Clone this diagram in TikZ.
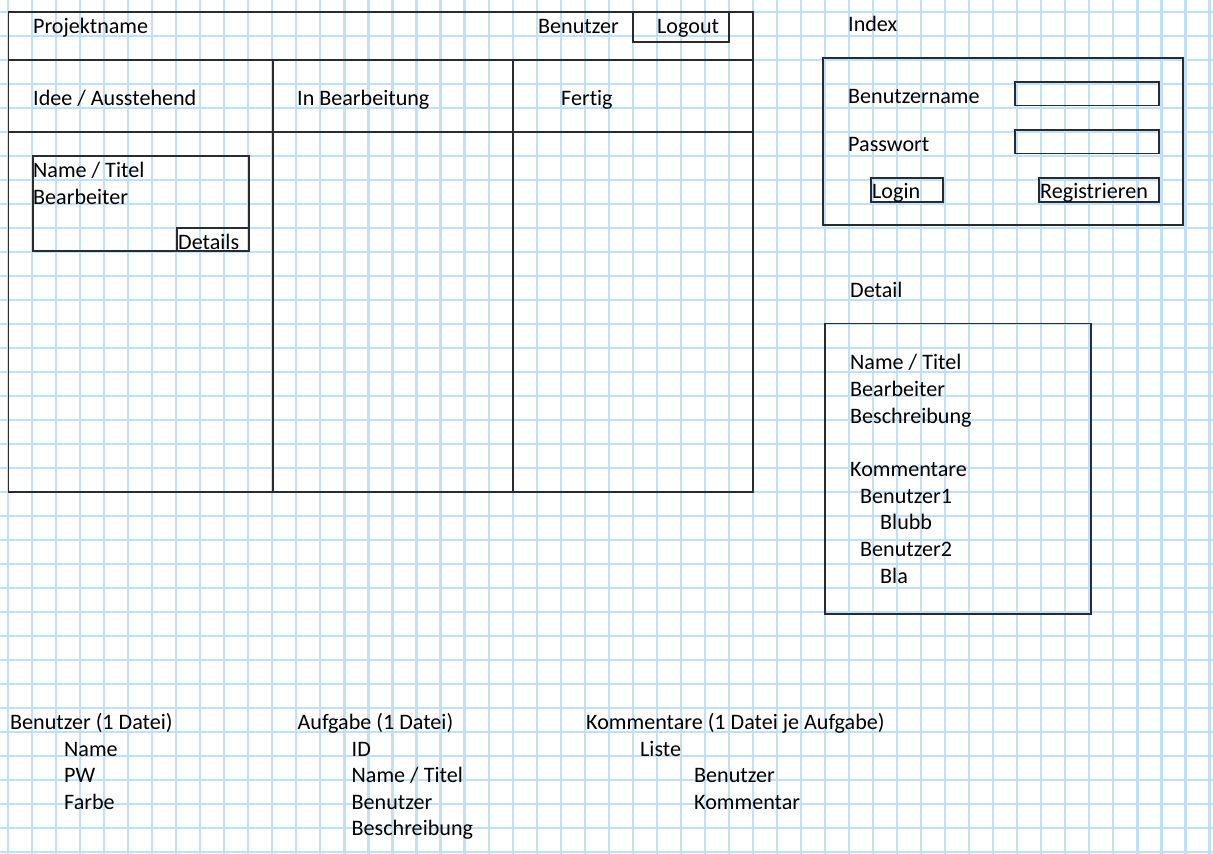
\documentclass[tikz,border=0pt]{standalone}
\usepackage{fontspec}
\setmainfont[Ligatures=NoCommon]{Carlito}
\usepackage{xcolor}
\usepackage{tikz}
\usetikzlibrary{positioning}
\definecolor{gridblue}{RGB}{192,224,249}
\definecolor{boxline}{RGB}{40,43,47}

\begin{document}
\begin{tikzpicture}[
				x=1pt, y=-1pt,
				gridline/.style={draw=gridblue, line width=2.2pt},
				frame/.style={draw=boxline, line width=1.8pt},
				lbl/.style={anchor=base west, inner sep=0pt, font=\fontsize{22.1}{26}\selectfont}
				]
				\useasboundingbox (0,0) rectangle (1213,854);
				\fill[white] (0,0) rectangle (1213,854);
				% sheet grid
				\foreach \i in {0,...,50}
				\draw[gridline] ({8+24.03*\i},0) -- ({8+24.03*\i},854);
				\foreach \j in {0,...,35}
				\draw[gridline] (0,{11.8+24*\j}) -- (1213,{11.8+24*\j});
				
				% board
				\draw[frame] (8.5,12) rectangle (753,492);
				\draw[frame] (8.5,60) -- (753,60);
				\draw[frame] (8.5,132) -- (753,132);
				\draw[frame] (273,60) -- (273,492);
				\draw[frame] (513,60) -- (513,492);
				\draw[frame] (633,12) rectangle (729,42);
				\node[lbl] (projekt) at (33,33.5) {Projektname};
				\node[lbl] (benutzer) at (538,33) {Benutzer};
				\node[lbl] (logout) at (657,33) {Logout};
				\node[lbl] (idee) at (33,105.5) {Idee / Ausstehend};
				\node[lbl] (inbearb) at (297,105.5) {In Bearbeitung};
				\node[lbl] (fertig) at (561,105.5) {Fertig};
				
				% card
				\draw[frame] (33,156) rectangle (249,251);
				\draw[frame] (177,228) rectangle (249,251);
				\node[lbl] (cardname) at (33,177.5) {Name / Titel};
				\node[lbl] (cardbearb) at (33,204) {Bearbeiter};
				\node[lbl] (details) at (178,249.5) {Details};
				
				% index
				\node[lbl] (index) at (848,31.5) {Index};
				\draw[frame] (823,58) rectangle (1183,225);
				\draw[frame] (1015,82) rectangle (1159,105.5);
				\draw[frame] (1015,130) rectangle (1159,153.5);
				\draw[frame] (871,178) rectangle (943,202);
				\draw[frame] (1039,178) rectangle (1159,202);
				\node[lbl] (username) at (848,103.2) {Benutzername};
				\node[lbl] (passwort) at (848,151.2) {Passwort};
				\node[lbl] (login) at (872,198.8) {Login};
				\node[lbl] (register) at (1040,198.8) {Registrieren};
				
				% detail
				\node[lbl] (detail) at (850,297.2) {Detail};
				\draw[frame] (825,323.5) rectangle (1091,614);
				\node[lbl] (detname) at (850,369.8) {Name / Titel};
				\node[lbl] (detbearb) at (850,396.5) {Bearbeiter};
				\node[lbl] (detbeschr) at (850,423.2) {Beschreibung};
				\node[lbl] (detkomm) at (850,476.5) {Kommentare};
				\node[lbl] (detuser1) at (860,503.2) {Benutzer1};
				\node[lbl] (detblubb) at (880,529.8) {Blubb};
				\node[lbl] (detuser2) at (860,556.5) {Benutzer2};
				\node[lbl] (detbla) at (880,583.2) {Bla};
				
				% data files
				\node[lbl] (fbenutzer) at (10,729.8) {Benutzer (1 Datei)};
				\foreach \t [count=\k] in {Name, PW, Farbe}
				\node[lbl] (fbenutzer\k) at (64,{729.8+26.5*\k}) {\t};
				\node[lbl] (faufgabe) at (297.5,729.8) {Aufgabe (1 Datei)};
				\foreach \t [count=\k] in {ID, Name / Titel, Benutzer, Beschreibung}
				\node[lbl] (faufgabe\k) at (351.5,{729.8+26.5*\k}) {\t};
				\node[lbl] (fkomm) at (586,729.8) {Kommentare (1 Datei je Aufgabe)};
				\node[lbl] (fliste) at (640,756.3) {Liste};
				\node[lbl] (fkommuser) at (694,782.8) {Benutzer};
				\node[lbl] (fkommtext) at (694,809.3) {Kommentar};
			\end{tikzpicture}
\end{document}
